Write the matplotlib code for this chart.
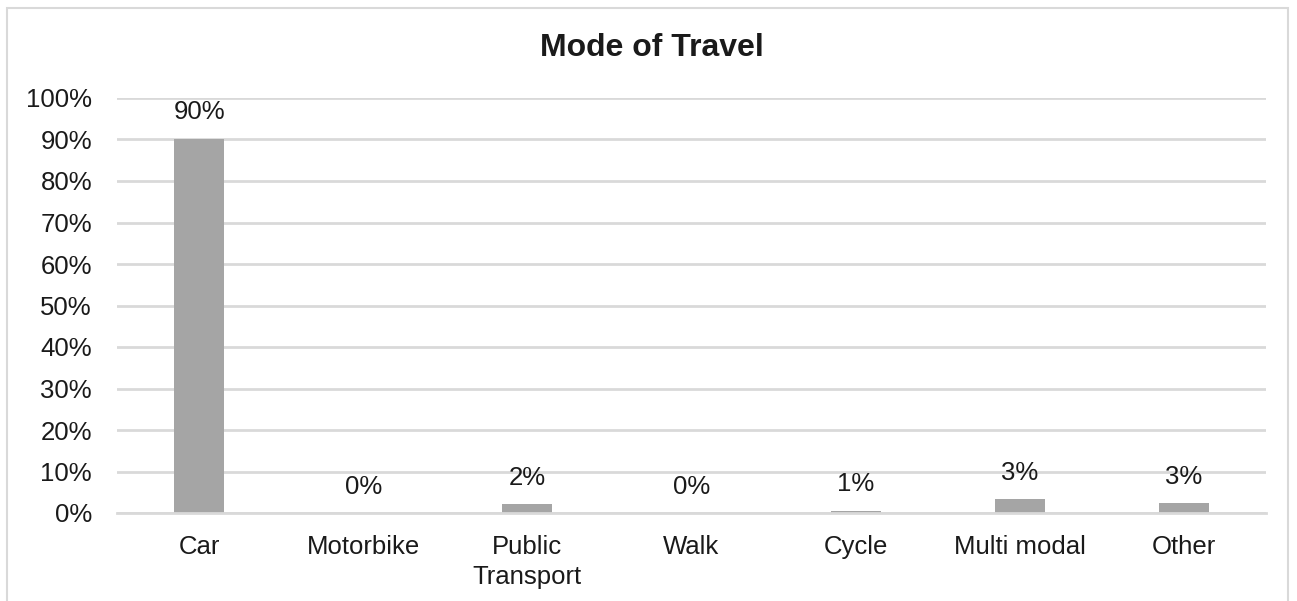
import matplotlib
matplotlib.use("Agg")
import matplotlib.pyplot as plt
from matplotlib.patches import Rectangle
from matplotlib.ticker import FuncFormatter

categories = ["Car", "Motorbike", "Public\nTransport", "Walk", "Cycle", "Multi modal", "Other"]
shares = [90.2, 0.0, 2.1, 0.0, 0.6, 3.3, 2.4]
share_labels = ["90%", "0%", "2%", "0%", "1%", "3%", "3%"]
yticks = [0, 10, 20, 30, 40, 50, 60, 70, 80, 90, 100]

plt.rcParams["font.family"] = ["Liberation Sans", "DejaVu Sans"]
text_color = "#1a1a1a"
grid_color = "#d9d9d9"
bar_color = "#a5a5a5"

fig = plt.figure(figsize=(12.97, 6.01), dpi=100)
fig.patches.append(Rectangle((7 / 1297, -0.01), 1281 / 1297, 1 - 8 / 601 + 0.01,
                             transform=fig.transFigure, fill=False,
                             edgecolor="#d9d9d9", linewidth=1.5))

ax = fig.add_axes([117 / 1297, 1 - 513 / 601, (1266 - 117) / 1297, (513 - 98) / 601])
x = list(range(len(categories)))
ax.bar(x, shares, width=0.305, color=bar_color, zorder=3)
ax.set_xlim(-0.5, len(categories) - 0.5)
ax.set_ylim(0, 100)
ax.set_yticks(yticks)
ax.yaxis.set_major_formatter(FuncFormatter(lambda v, _: f"{v:.0f}%"))
ax.set_xticks(x)
ax.set_xticklabels(categories, linespacing=1.32)
ax.grid(axis="y", color=grid_color, linewidth=2, zorder=0)
for s in ["top", "right", "left"]:
    ax.spines[s].set_visible(False)
ax.spines["bottom"].set_color(grid_color)
ax.spines["bottom"].set_linewidth(2)
ax.spines["bottom"].set_zorder(4)
ax.tick_params(axis="both", length=0, labelsize=18.5, labelcolor=text_color)
ax.tick_params(axis="y", pad=18)
ax.tick_params(axis="x", pad=16)

for xi, v, lab in zip(x, shares, share_labels):
    ax.annotate(lab, (xi, v), xytext=(0, 19), textcoords="offset points",
                ha="center", va="center", fontsize=18.5, color=text_color)

fig.text(652 / 1297, 1 - 48 / 601, "Mode of Travel", ha="center", va="center",
         fontsize=23, fontweight="bold", color=text_color)

fig.savefig("out.png", dpi=100)
